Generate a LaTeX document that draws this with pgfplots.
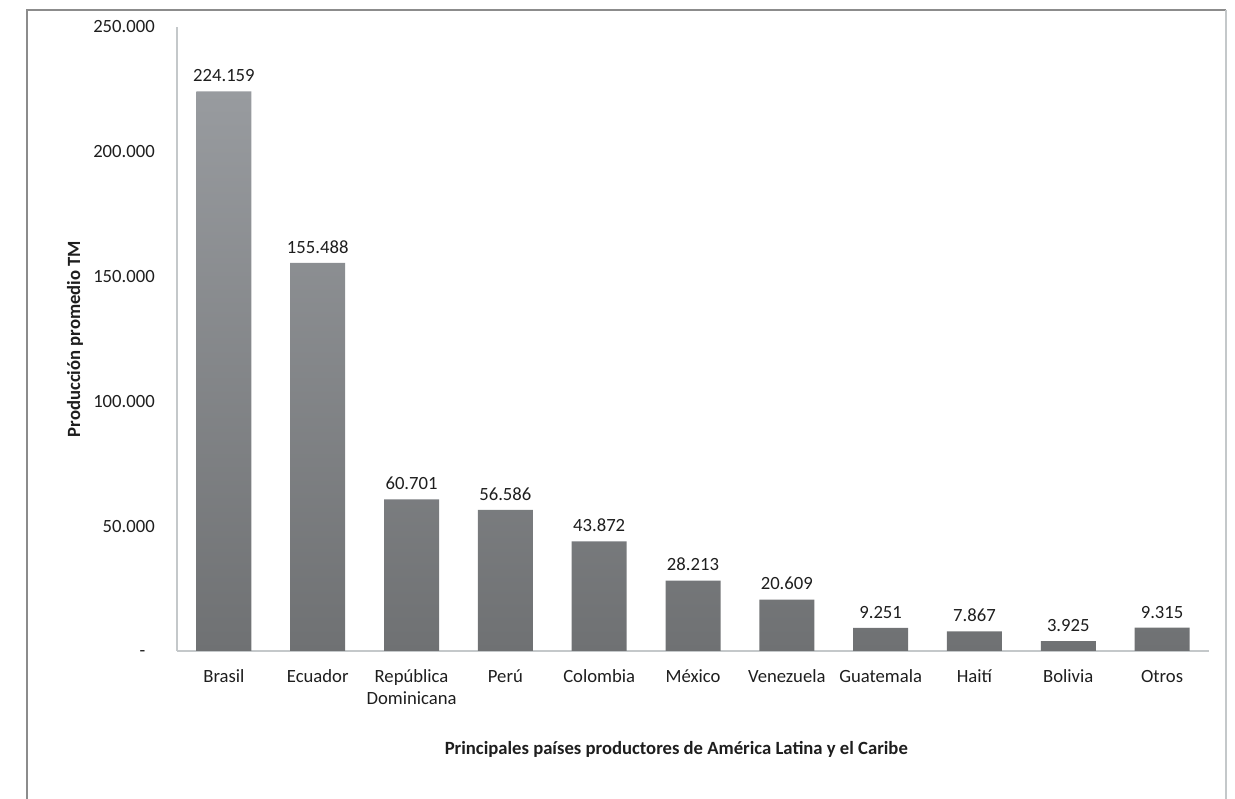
\documentclass[border=0pt]{standalone}
\usepackage{pgfplots}
\pgfplotsset{compat=1.18}
\usepackage{fontspec}
\setmainfont{Carlito}
\definecolor{txt}{HTML}{1E1E1E}
\definecolor{axl}{HTML}{C4C8CA}
\definecolor{bartop}{HTML}{989B9F}
\definecolor{barbot}{HTML}{6F7173}
\begin{document}
\fontsize{14}{17}\selectfont
\begin{tikzpicture}
\path[use as bounding box] (-132.75pt,-111pt) rectangle (793.5pt,488.25pt);
\begin{axis}[
  at={(0,0)}, anchor=south west,
  scale only axis, width=774pt, height=468pt,
  ybar, bar width=41.25pt,
  xmin=-0.5, xmax=10.5, ymin=0, ymax=250000,
  axis x line*=bottom, axis y line*=left,
  axis line style={axl, line width=0.9pt, -},
  major tick length=0pt,
  xtick={0,...,10},
  xticklabels={Brasil, Ecuador, {República\\Dominicana}, Perú, Colombia, México, Venezuela, Guatemala, Haití, Bolivia, Otros},
  xticklabel style={align=center, anchor=north, inner sep=0pt, yshift=-14pt, text=txt, font=\fontsize{14}{16.5}\selectfont},
  ytick={0,50000,100000,150000,200000,250000},
  yticklabels={-\phantom{0}, 50.000, 100.000, 150.000, 200.000, 250.000},
  yticklabel style={anchor=east, inner sep=0pt, xshift=-16.5pt, text=txt},
  /pgf/number format/assume math mode=true,
  scaled y ticks=false,
  xlabel={\bfseries Principales países productores de América Latina y el Caribe},
  ylabel={\bfseries Producción promedio TM},
  xlabel style={at={(axis description cs:0.5,0)}, anchor=center, yshift=-74pt, xshift=-12.5pt, text=txt},
  ylabel style={at={(axis description cs:0,0.5)}, anchor=center, yshift=76.5pt, text=txt},
  nodes near coords,
  point meta=explicit symbolic,
  every node near coord/.append style={anchor=south, inner sep=0pt, yshift=7pt, text=txt, font=\fontsize{14}{17}\selectfont},
  clip=false,
]
\addplot[draw=none, top color=bartop, bottom color=barbot] coordinates {
  (0,224159) [224.159]
  (1,155488) [155.488]
  (2,60701) [60.701]
  (3,56586) [56.586]
  (4,43872) [43.872]
  (5,28213) [28.213]
  (6,20609) [20.609]
  (7,9251) [9.251]
  (8,7867) [7.867]
  (9,3925) [3.925]
  (10,9315) [9.315]
};
\end{axis}
\draw[color=black!45, line width=1.2pt] (-112.5pt,-111pt) -- (-112.5pt,480.75pt) -- (786.75pt,480.75pt);
\draw[color=axl, line width=1.5pt] (786.75pt,480.75pt) -- (786.75pt,-111pt);
\end{tikzpicture}
\end{document}
